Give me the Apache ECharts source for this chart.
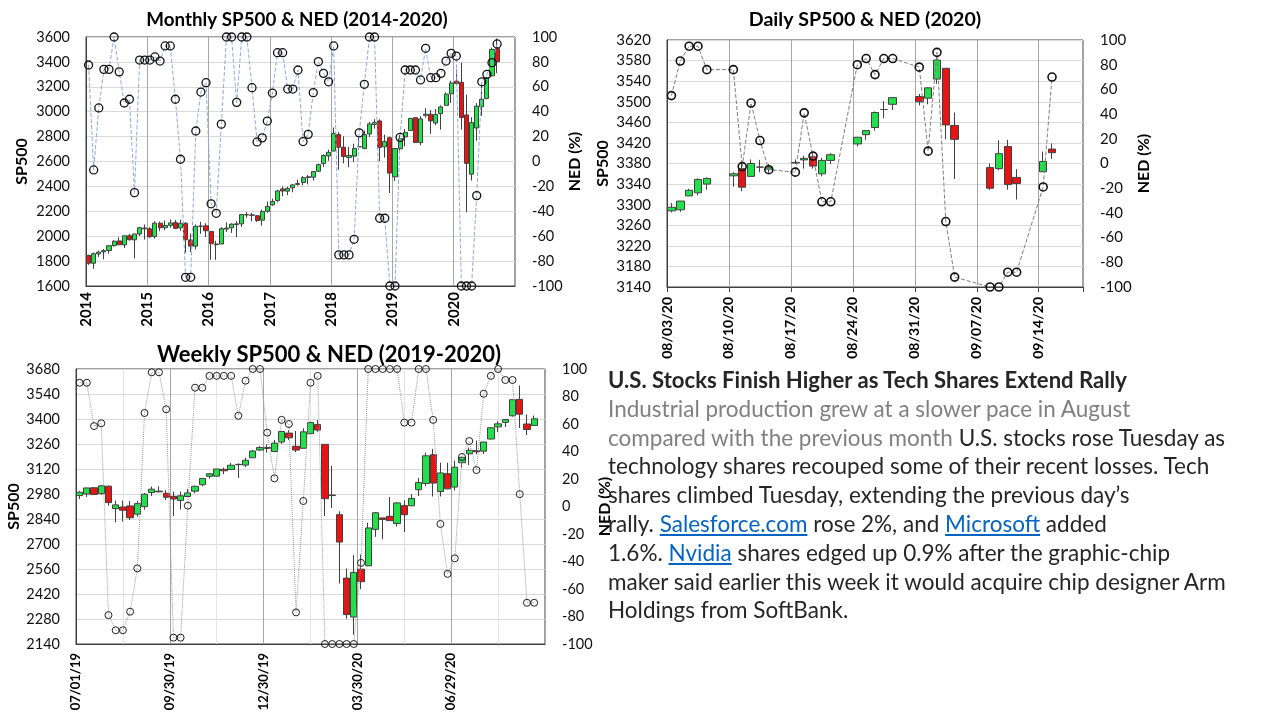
<!DOCTYPE html>
<html><head><meta charset="utf-8">
<script src="https://cdn.jsdelivr.net/npm/echarts@6/dist/echarts.min.js"></script>
<style>
html,body{margin:0;padding:0;background:#fff;}
#chart{position:absolute;left:0;top:0;width:1280px;height:720px;}
#news{position:absolute;left:608px;top:366px;font-family:Lato,'Open Sans',sans-serif;font-size:19px;line-height:28.8px;color:#262626;white-space:nowrap;}
#news .h{font-weight:bold;}
#news .g{color:#808080;}
#news .l{color:#0563c1;text-decoration:underline;}
</style></head><body>
<div id="chart"></div>
<div id="news">
<div class="h" id="headline">U.S. Stocks Finish Higher as Tech Shares Extend Rally</div>
<div><span class="g">Industrial production grew at a slower pace in August</span></div>
<div><span class="g">compared with the previous month</span> U.S. stocks rose Tuesday as</div>
<div>technology shares recouped some of their recent losses. Tech</div>
<div>shares climbed Tuesday, extending the previous day’s</div>
<div>rally. <span class="l">Salesforce.com</span> rose 2%, and <span class="l">Microsoft</span> added</div>
<div>1.6%. <span class="l">Nvidia</span> shares edged up 0.9% after the graphic-chip</div>
<div id="longline">maker said earlier this week it would acquire chip designer Arm</div>
<div>Holdings from SoftBank.</div>
</div>
<script>
// ---------------- DATA ----------------
const monthlyTickLabels = ['2014','2015','2016','2017','2018','2019','2020'];
// monthly candles Jan 2014 .. Sep 2020 : [open, close, low, high]
const monthlyOHLC = [
[1846,1783,1770,1851],[1783,1859,1738,1868],[1858,1872,1834,1884],[1874,1884,1814,1897],[1885,1924,1860,1924],[1924,1960,1916,1968],
[1962,1931,1931,1991],[1930,2003,1905,2005],[2004,1972,1964,2019],[1971,2018,1821,2018],[2018,2068,2001,2076],[2066,2059,1973,2094],
[2059,1995,1988,2072],[1997,2105,1981,2120],[2105,2068,2040,2118],[2068,2086,2048,2126],[2087,2107,2068,2135],[2109,2063,2056,2130],
[2067,2104,2044,2133],[2104,1972,1867,2113],[1970,1920,1872,2021],[1920,2079,1894,2094],[2081,2080,2019,2116],[2083,2044,1993,2104],
[2038,1940,1812,2038],[1937,1932,1810,1963],[1937,2060,1937,2072],[2057,2065,2034,2111],[2067,2097,2026,2103],[2094,2099,1992,2121],
[2099,2174,2074,2177],[2173,2171,2148,2194],[2171,2168,2119,2188],[2164,2126,2115,2170],[2129,2199,2084,2214],[2200,2239,2187,2278],
[2252,2279,2245,2301],[2286,2364,2272,2372],[2380,2363,2322,2401],[2362,2384,2329,2398],[2389,2412,2353,2419],[2416,2423,2406,2454],
[2431,2470,2408,2484],[2477,2472,2417,2491],[2474,2519,2447,2519],[2521,2575,2520,2583],[2583,2648,2557,2658],[2645,2674,2606,2695],
[2684,2824,2682,2873],[2816,2714,2533,2836],[2715,2641,2586,2802],[2633,2648,2554,2717],[2643,2705,2595,2742],[2719,2718,2692,2791],
[2705,2816,2699,2848],[2821,2902,2796,2917],[2897,2914,2864,2941],[2926,2712,2604,2940],[2718,2760,2631,2815],[2791,2507,2347,2800],
[2477,2704,2444,2709],[2702,2784,2682,2813],[2798,2834,2722,2860],[2849,2946,2849,2950],[2952,2752,2751,2954],[2752,2942,2729,2964],
[2971,2980,2952,3028],[2980,2926,2822,3014],[2909,2977,2892,3022],[2984,3038,2856,3050],[3051,3141,3051,3154],[3144,3231,3070,3248],
[3245,3226,3215,3338],[3236,2954,2856,3394],[2974,2585,2192,3137],[2498,2912,2447,2955],[2869,3044,2767,3069],[3039,3100,2966,3233],
[3106,3271,3101,3280],[3288,3500,3285,3515],[3507,3401,3310,3588]
];
const monthlyNED = [
77.5,-6.8,43,74,74,100,72,47,50,-25,81.5,81.5,
81.5,84,80.7,92.8,92.8,50,1.8,-93,-93,24.5,55.8,63.3,
-34,-41.6,30,100,100,47.5,100,100,59.3,15.7,19,32.5,
55,87.4,87.4,58.2,58.2,73.5,16,21.8,55.3,80.2,70.8,64,
92.8,-75,-75,-75,-62.5,23,62,100,100,-45.6,-45.6,-100,
-100,19.4,73.5,73.5,73.5,65.5,90.9,67.3,67.3,70.8,80.7,86.9,
84.7,-100,-100,-100,-27.4,64,70,79.4,94.4
];

const dailyTickLabels = ['08/03/20','08/10/20','08/17/20','08/24/20','08/31/20','09/07/20','09/14/20'];
const dailyDates = ['2020-08-03','2020-08-04','2020-08-05','2020-08-06','2020-08-07',
'2020-08-10','2020-08-11','2020-08-12','2020-08-13','2020-08-14',
'2020-08-17','2020-08-18','2020-08-19','2020-08-20','2020-08-21',
'2020-08-24','2020-08-25','2020-08-26','2020-08-27','2020-08-28',
'2020-08-31','2020-09-01','2020-09-02','2020-09-03','2020-09-04',
'2020-09-08','2020-09-09','2020-09-10','2020-09-11',
'2020-09-14','2020-09-15'];
const dailyOHLC = [
[3288,3295,3285,3303],[3290,3307,3286,3307],[3317,3328,3317,3331],[3323,3349,3318,3351],[3340,3351,3329,3353],
[3356,3360,3335,3363],[3370,3334,3326,3381],[3355,3380,3355,3388],[3373,3373,3363,3387],[3369,3373,3362,3379],
[3381,3382,3379,3388],[3387,3390,3370,3395],[3393,3375,3370,3400],[3360,3386,3355,3391],[3386,3397,3379,3400],
[3418,3431,3413,3432],[3436,3444,3426,3444],[3450,3479,3444,3481],[3485,3485,3468,3501],[3495,3508,3484,3509],
[3510,3500,3493,3515],[3507,3527,3495,3528],[3544,3581,3535,3588],[3565,3455,3427,3565],[3454,3427,3350,3479],
[3372,3332,3329,3380],[3370,3399,3367,3425],[3413,3339,3329,3426],[3353,3341,3310,3369],
[3364,3384,3364,3403],[3408,3401,3389,3419]
];
const dailyNED = [55,83,95,95,76, 76,-2.5,49,18.6,-5, -7,41,6,-31,-31, 80,85,72,85,85, 78,10,90,-47,-92, -100,-100,-88,-88, -19,70];

const weeklyTickLabels = ['07/01/19','09/30/19','12/30/19','03/30/20','06/29/20'];
// weekly candles, weeks starting 07/01/19 : [open, close, low, high]
const weeklyOHLC = [
[2971,2990,2952,2996],[2980,3014,2963,3014],[3015,2977,2976,3018],[2982,3026,2976,3028],[3024,2932,2914,3027],
[2898,2919,2822,2943],[2907,2889,2826,2943],[2913,2847,2835,2940],[2867,2926,2853,2940],[2909,2979,2892,2986],
[2988,3007,2968,3022],[2996,2992,2990,3023],[2984,2962,2946,3002],[2967,2952,2856,2993],[2944,2970,2893,2993],
[2966,2986,2963,3008],[2996,3023,2984,3027],[3032,3067,3023,3067],[3079,3093,3066,3098],[3080,3120,3078,3120],
[3118,3110,3091,3128],[3117,3141,3114,3154],[3144,3146,3070,3151],[3142,3169,3132,3183],[3183,3221,3182,3226],
[3226,3240,3222,3248],[3240,3235,3212,3258],[3218,3265,3214,3283],[3271,3330,3260,3330],[3321,3295,3282,3338],
[3247,3226,3214,3333],[3236,3328,3235,3348],[3318,3380,3315,3385],[3369,3338,3328,3394],[3258,2954,2856,3260],
[2974,2972,2902,3137],[2864,2711,2479,2883],[2509,2305,2281,2563],[2291,2541,2192,2637],[2559,2489,2447,2641],
[2578,2790,2575,2819],[2782,2875,2740,2879],[2846,2837,2727,2846],[2855,2831,2830,2964],[2815,2930,2798,2934],
[2915,2864,2767,2944],[2914,2955,2913,2980],[3004,3044,2969,3069],[3039,3194,3025,3212],[3200,3041,2966,3233],
[2994,3098,2966,3156],[3094,3009,3007,3155],[3019,3130,3000,3166],[3155,3185,3127,3190],[3205,3225,3142,3240],
[3224,3216,3202,3279],[3220,3271,3204,3272],[3288,3351,3285,3353],[3356,3373,3326,3388],[3381,3397,3355,3400],
[3418,3508,3413,3509],[3510,3427,3350,3588],[3372,3341,3310,3426],[3364,3401,3364,3419]
];
const weeklyNED = [
90,90,58.5,60.5,-79,-90,-90,-76.5,-45,68,
97.6,97.6,70.7,-95.4,-95.4,0.6,86.4,86.4,95,95,
95,95,66,91.5,100,100,53.7,20.5,63,60,
-77,4,90,95,-100,-100,-100,-100,-100,-41,
100,100,100,100,100,61,61,100,100,63,
-12.7,-49,-37.7,36,47.6,26.5,82,95,100,92,
92,9,-70,-70
];

// ---------------- STYLE ----------------
const UP = '#22e04a', DOWN = '#e81414', EDGE = '#404040';
const FONT = 'Lato, "Open Sans", sans-serif';
const GRIDC = '#d9d9d9', VGRID = '#a6a6a6';

const dayMs = 86400000;
const dailyBase = Date.UTC(2020, 7, 3);
const dayIndex = s => { const p = s.split('-').map(Number); return (Date.UTC(p[0], p[1]-1, p[2]) - dailyBase) / dayMs; };
const plain = v => String(v);

function leftY(grid, min, max, interval, gap, fs) {
  return {gridIndex: grid, type: 'value', min, max, interval, position: 'left',
    name: 'SP500', nameLocation: 'middle', nameRotate: 90, nameGap: gap,
    nameTextStyle: {fontFamily: FONT, fontWeight: 'bold', fontSize: 16, color: '#000'},
    axisLine: {show: true, onZero: false, lineStyle: {color: EDGE}}, axisTick: {show: false},
    axisLabel: {fontFamily: FONT, fontSize: fs, color: '#111', margin: 16, formatter: plain},
    splitLine: {show: true, lineStyle: {color: GRIDC, width: 1}}};
}
function rightY(grid, gap, fs) {
  return {gridIndex: grid, type: 'value', min: -100, max: 100, interval: 20, position: 'right',
    name: 'NED (%)', nameLocation: 'middle', nameRotate: 90, nameGap: gap,
    nameTextStyle: {fontFamily: FONT, fontWeight: 'bold', fontSize: 16, color: '#000'},
    axisLine: {show: false, onZero: false}, axisTick: {show: false},
    axisLabel: {fontFamily: FONT, fontSize: fs, color: '#111', margin: 17, formatter: plain},
    splitLine: {show: false}};
}
const candleStyle = {color: UP, color0: DOWN, borderColor: EDGE, borderColor0: EDGE, borderColorDoji: EDGE, borderWidth: 1};

const option = {
  backgroundColor: '#fff',
  animation: false,
  grid: [
    {left: 86, top: 37, width: 429, height: 249, show: true, borderColor: EDGE, borderWidth: 1},
    {left: 667, top: 40, width: 416, height: 247, show: true, borderColor: EDGE, borderWidth: 1},
    {left: 76, top: 369, width: 469, height: 275, show: true, borderColor: EDGE, borderWidth: 1}
  ],
  graphic: [
    {type: 'text', x: 297, y: 20, style: {text: 'Monthly SP500 & NED (2014-2020)', font: 'bold 18.8px ' + FONT, fill: '#000', textAlign: 'center', textVerticalAlign: 'middle'}},
    {type: 'text', x: 865, y: 20, style: {text: 'Daily SP500 & NED (2020)', font: 'bold 19.6px ' + FONT, fill: '#000', textAlign: 'center', textVerticalAlign: 'middle'}},
    {type: 'text', x: 329, y: 355, style: {text: 'Weekly SP500 & NED (2019-2020)', font: 'bold 22px ' + FONT, fill: '#000', textAlign: 'center', textVerticalAlign: 'middle'}}
  ],
  xAxis: [
    {gridIndex: 0, type: 'value', min: 0, max: 84, interval: 12,
      axisLine: {show: true, onZero: false, lineStyle: {color: EDGE}}, axisTick: {show: false},
      axisLabel: {rotate: 90, fontFamily: FONT, fontWeight: 'bold', fontSize: 15, color: '#000', margin: 6,
        formatter: v => monthlyTickLabels[v / 12] || ''},
      splitLine: {show: true, lineStyle: {color: VGRID}}},
    {gridIndex: 1, type: 'value', min: 0, max: 47, interval: 7,
      axisLine: {show: true, onZero: false, lineStyle: {color: EDGE}}, axisTick: {show: true, length: 5, lineStyle: {color: EDGE}},
      axisLabel: {rotate: 90, fontFamily: FONT, fontWeight: 'bold', fontSize: 14, color: '#000', margin: 10,
        formatter: v => (v % 7 === 0 ? dailyTickLabels[v / 7] : '') || ''},
      splitLine: {show: true, lineStyle: {color: VGRID}}},
    {gridIndex: 2, type: 'value', min: 0, max: 65, interval: 13,
      axisLine: {show: true, onZero: false, lineStyle: {color: EDGE}}, axisTick: {show: false},
      axisLabel: {rotate: 90, fontFamily: FONT, fontWeight: 'bold', fontSize: 13, color: '#000', margin: 9,
        formatter: v => weeklyTickLabels[v / 13] || ''},
      minorTick: {show: false, splitNumber: 2},
      minorSplitLine: {show: true, lineStyle: {color: '#e4e4e4'}},
      splitLine: {show: true, lineStyle: {color: VGRID}}}
  ],
  yAxis: [
    leftY(0, 1600, 3600, 200, 56, 14.5), rightY(0, 47, 14.5),
    leftY(1, 3140, 3620, 40, 56, 15), rightY(1, 43, 15),
    leftY(2, 2140, 3680, 140, 54, 14.5), rightY(2, 38, 14.5)
  ],
  series: [
    {type: 'candlestick', xAxisIndex: 0, yAxisIndex: 0, barWidth: 4.6, itemStyle: candleStyle,
      data: monthlyOHLC.map((r, i) => [i + 0.5].concat(r))},
    {type: 'line', xAxisIndex: 0, yAxisIndex: 1, z: 5, symbol: 'circle', symbolSize: 8,
      itemStyle: {color: 'rgba(0,0,0,0)', borderColor: '#111', borderWidth: 1.3},
      lineStyle: {color: '#8eaadb', width: 1, type: 'dashed'},
      data: monthlyNED.map((v, i) => [i + 0.5, v])},
    {type: 'candlestick', xAxisIndex: 1, yAxisIndex: 2, barWidth: 8, itemStyle: candleStyle,
      data: dailyOHLC.map((r, i) => [dayIndex(dailyDates[i]) + 0.5].concat(r))},
    {type: 'line', xAxisIndex: 1, yAxisIndex: 3, z: 5, symbol: 'circle', symbolSize: 8,
      itemStyle: {color: 'rgba(0,0,0,0)', borderColor: '#111', borderWidth: 1.6},
      lineStyle: {color: '#7f7f7f', width: 1, type: 'dashed'},
      data: dailyNED.map((v, i) => [dayIndex(dailyDates[i]) + 0.5, v])},
    {type: 'candlestick', xAxisIndex: 2, yAxisIndex: 4, barWidth: 6.8, itemStyle: candleStyle,
      data: weeklyOHLC.map((r, i) => [i + 0.5].concat(r))},
    {type: 'line', xAxisIndex: 2, yAxisIndex: 5, z: 5, symbol: 'circle', symbolSize: 7,
      itemStyle: {color: 'rgba(0,0,0,0)', borderColor: '#222', borderWidth: 1},
      lineStyle: {color: '#9a9a9a', width: 1, type: 'dotted'},
      data: weeklyNED.map((v, i) => [i + 0.5, v])}
  ]
};
const chart = echarts.init(document.getElementById('chart'));
chart.setOption(option);

// fit the news text block widths to the layout
(function fit() {
  const news = document.getElementById('news');
  const ll = document.getElementById('longline');
  const range = el => { const r = document.createRange(); r.selectNodeContents(el); return r.getBoundingClientRect().width; };
  const fs = 19 * 618 / range(ll);
  news.style.fontSize = fs.toFixed(2) + 'px';
  const h = document.getElementById('headline');
  h.style.fontSize = (fs * 519 / range(h)).toFixed(2) + 'px';
})();
</script>
</body></html>
